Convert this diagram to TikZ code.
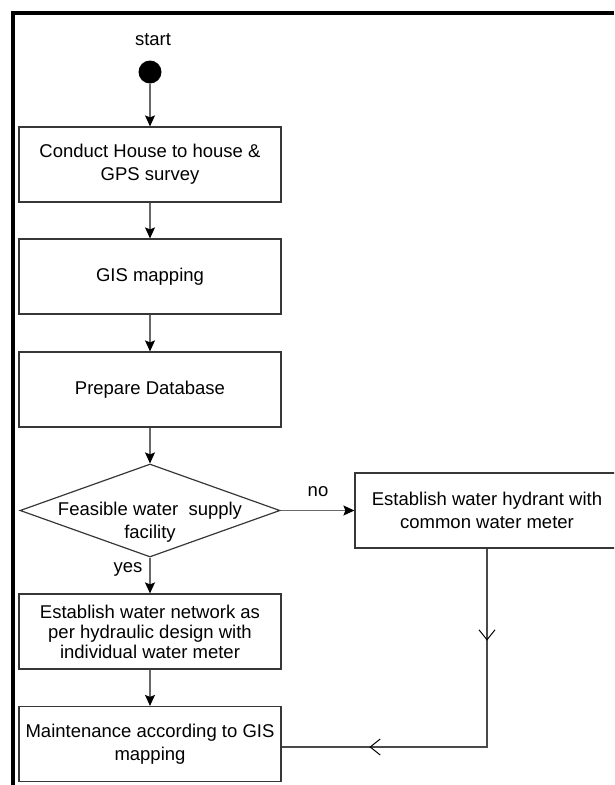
\documentclass[tikz,border=0pt]{standalone}
\usepackage{fontspec}
\setmainfont{Liberation Sans}
\usetikzlibrary{shapes.geometric,arrows.meta,decorations.markings}
\definecolor{boxc}{RGB}{55,55,55}
\definecolor{connc}{RGB}{105,105,105}
\begin{document}
\begin{tikzpicture}[x=1pt,y=-1pt,
  every node/.style={font=\fontsize{18.5}{23}\selectfont},
  box/.style={draw=boxc, line width=1.2pt, minimum width=262pt, minimum height=75pt, inner sep=0pt, align=center},
  decision/.style={shape=diamond, draw=boxc, line width=1.2pt, minimum width=260pt, minimum height=93pt, inner sep=0pt, aspect=2.8},
  conn/.style={draw=connc, line width=1.2pt, -{Stealth[length=11pt,width=10pt,inset=2pt,color=black]}},
  barbline/.style={draw=connc!70!black, line width=1.2pt, postaction={decorate},
    decoration={markings,
      mark=at position 92pt with {\arrow[black,line width=1pt]{Straight Barb[length=10pt,width=16pt]}},
      mark=at position 316pt with {\arrow[black,line width=1pt]{Straight Barb[length=10pt,width=16pt]}}}},
  txt/.style={inner sep=0pt}
]
\path[use as bounding box] (0,0) rectangle (614,785);
\clip (0,0) rectangle (614,785);
\draw[line width=4.5pt] (13,785) -- (13,13) -- (614,13);

\node[circle, fill=black, minimum size=23pt, inner sep=0pt] (st) at (150,72) {};
\node[txt] (stl) at (153,40) {start};
\node[box] (b1) at (150,164.5) {Conduct House to house \&\\GPS survey};
\node[box] (b2) at (150,276.5) {GIS mapping};
\node[box] (b3) at (150,389.5) {Prepare Database};
\node[decision, label={[font=\fontsize{18.5}{23}\selectfont, align=center, yshift=-12pt]center:{Feasible water\ \ supply\\facility}}] (d) at (150,510.5) {};
\node[box, minimum width=264pt] (b4) at (487,510.5) {Establish water hydrant with\\common water meter};
\node[box, font=\fontsize{18.5}{20}\selectfont] (b6) at (150,631.5) {Establish water network as\\per hydraulic design with\\individual water meter};
\node[box] (b5) at (150,744) {Maintenance according to GIS\\mapping};
\node[txt] (no) at (318,492) {no};
\node[txt] (yes) at (128,569) {yes};

\draw[conn] (st) -- (b1);
\draw[conn] (b1) -- (b2);
\draw[conn] (b2) -- (b3);
\draw[conn] (b3) -- (d);
\draw[conn] (d) -- (b6);
\draw[conn] (d.east) -- (b4.west);
\draw[conn] (b6) -- (b5);
\draw[barbline] (b4.south) |- ([yshift=-3pt]b5.east);
\end{tikzpicture}
\end{document}
